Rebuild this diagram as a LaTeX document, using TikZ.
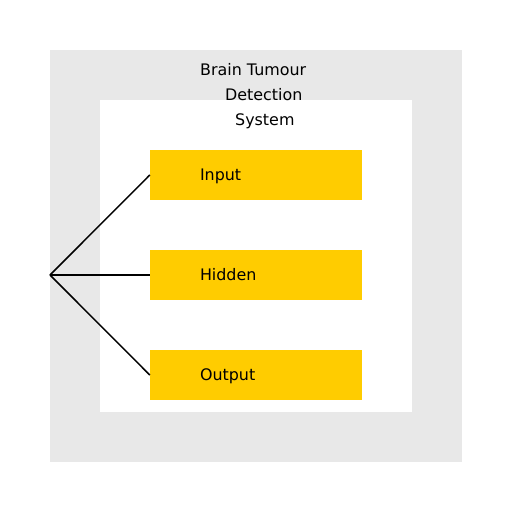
\documentclass[tikz,border=0pt]{standalone}
\usepackage{fontspec}
\setmainfont{DejaVu Sans}
\definecolor{panelgrey}{HTML}{E8E8E8}
\definecolor{layeryellow}{HTML}{FFCC00}
\begin{document}
\begin{tikzpicture}[x=1pt, y=-1pt]
 \tikzset{layer/.style={fill=layeryellow, minimum width=212pt, minimum height=50pt, inner xsep=50pt, text width=112pt, align=left, text height=11.5pt, text depth=0pt, font=\fontsize{15.9}{19}\selectfont}}
 \tikzset{titleline/.style={anchor=base west, inner sep=0pt, font=\fontsize{15.9}{19}\selectfont}}
  \useasboundingbox (0,0) rectangle (512,512);
  \fill[panelgrey] (50,50) rectangle (462,462);
  \fill[white] (100,100) rectangle (412,412);
  \node[titleline] (TitleA) at (200,75) {Brain Tumour};
  \node[titleline] (TitleB) at (225,100) {Detection};
  \node[titleline] (TitleC) at (235,125) {System};
  \node[layer] (Input) at (256,175) {Input};
  \node[layer] (Hidden) at (256,275) {Hidden};
  \node[layer] (Output) at (256,375) {Output};
  \coordinate (Hub) at (50,275);
  \draw[line width=1.5pt] (Hub) -- (Input.west);
  \draw[line width=1.5pt] (Hub) -- (Hidden.west);
  \draw[line width=1.5pt] (Hub) -- (Output.west);
\end{tikzpicture}
\end{document}
